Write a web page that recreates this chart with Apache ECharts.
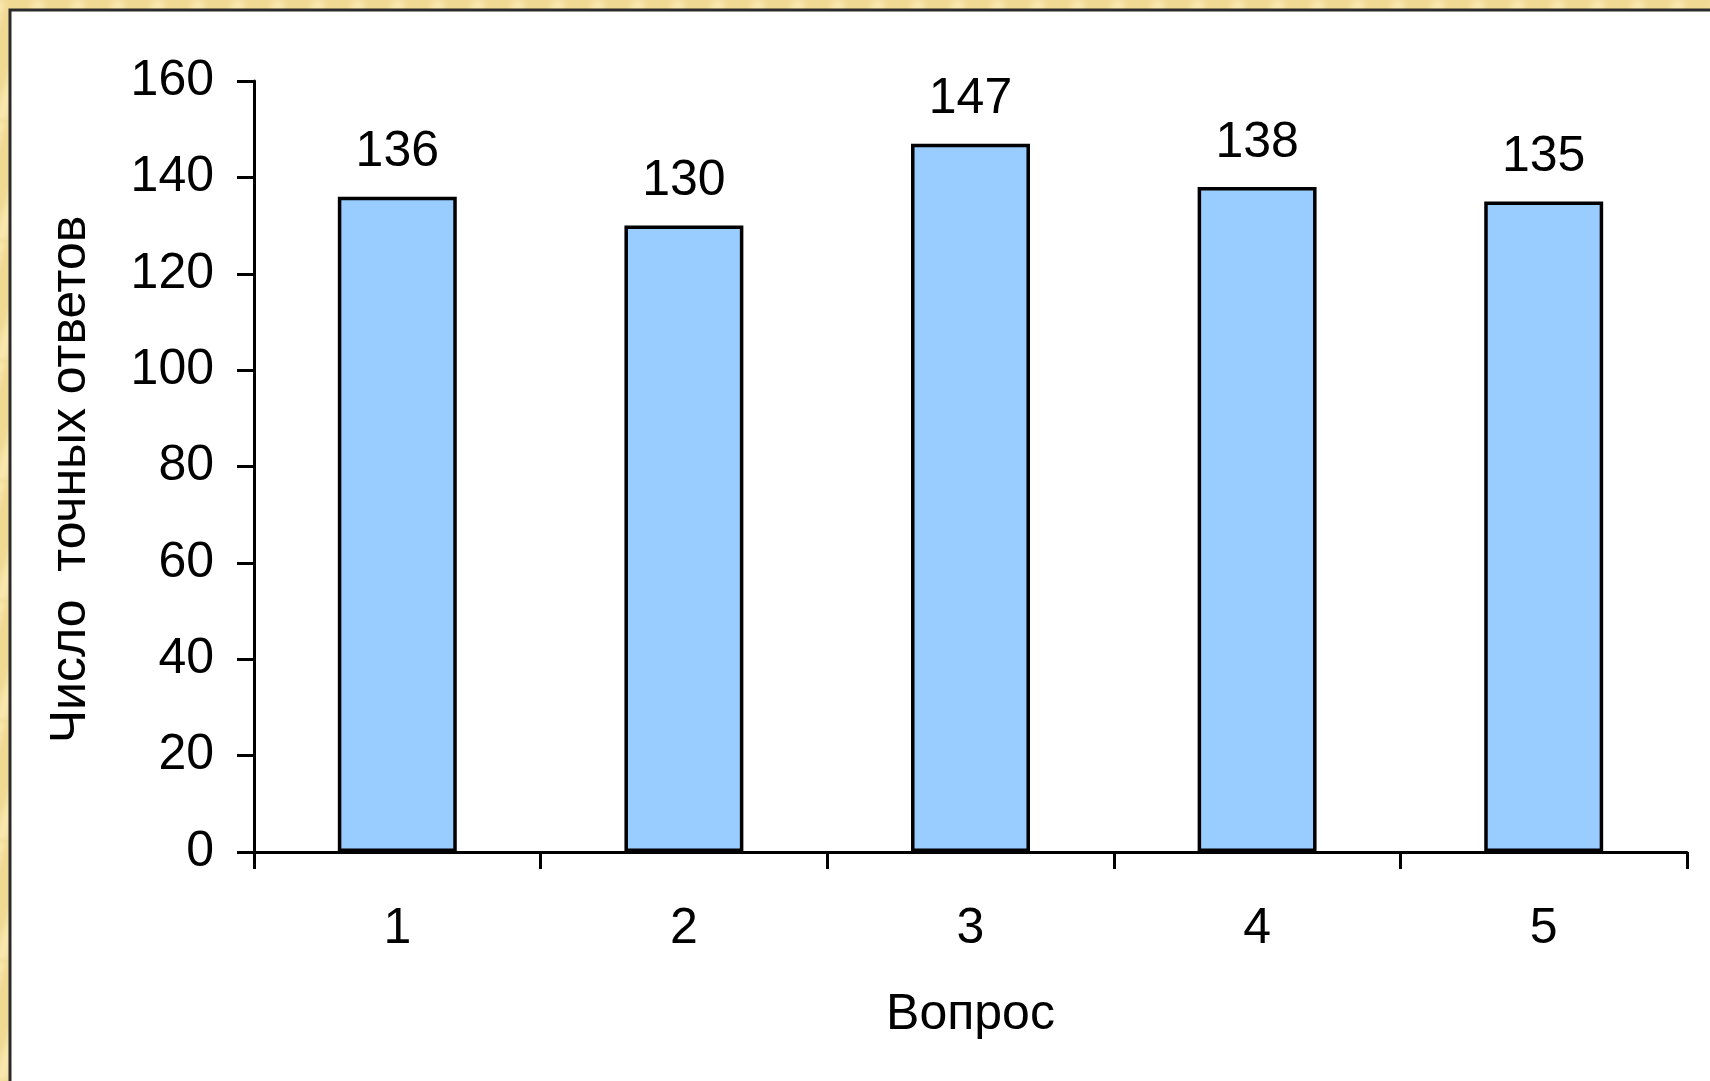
<!DOCTYPE html>
<html>
<head>
<meta charset="utf-8">
<script src="https://cdn.jsdelivr.net/npm/echarts@6/dist/echarts.min.js"></script>
<style>
  html, body { margin: 0; padding: 0; background: #f2dc9c; }
  #chart { width: 1710px; height: 1081px; }
</style>
</head>
<body>
<div id="chart"></div>
<script>
// Number of correct answers per question
const categories = ['1', '2', '3', '4', '5'];
const correctAnswers = [136, 130, 147, 138, 135];
const yTicks = { min: 0, max: 160, interval: 20 };
const yAxisTitle = 'Число  точных ответов';
const xAxisTitle = 'Вопрос';

// Beige paper texture with soft diagonal streaks for the frame
function makeTexture() {
  const c = document.createElement('canvas');
  c.width = 120; c.height = 120;
  const g = c.getContext('2d');
  g.fillStyle = '#f0d993';
  g.fillRect(0, 0, 120, 120);
  g.lineWidth = 12;
  g.filter = 'blur(3px)';
  for (let i = -120; i < 240; i += 40) {
    g.strokeStyle = 'rgba(252,238,190,0.7)';
    g.beginPath(); g.moveTo(i, 120); g.lineTo(i + 40, 0); g.stroke();
  }
  return c;
}

const font = '"Liberation Sans", Arial, sans-serif';
const fontSize = 50;
const chart = echarts.init(document.getElementById('chart'), null, { renderer: 'canvas' });

chart.setOption({
  backgroundColor: { image: makeTexture(), repeat: 'repeat' },
  animation: false,
  textStyle: { fontFamily: font },
  graphic: [
    {
      type: 'rect', z: -10, silent: true,
      shape: { x: 10, y: 10, width: 1710, height: 1081 },
      style: { fill: '#ffffff', stroke: '#2b2b2b', lineWidth: 3 }
    }
  ],
  grid: { left: 254, right: 23, top: 81, bottom: 229, containLabel: false },
  xAxis: {
    type: 'category',
    data: categories,
    boundaryGap: true,
    name: xAxisTitle,
    nameLocation: 'middle',
    nameGap: 138,
    nameTextStyle: { color: '#000', fontSize: fontSize, fontFamily: font },
    axisLine: { show: true, lineStyle: { color: '#000', width: 3 } },
    axisTick: { show: true, length: 17, lineStyle: { color: '#000', width: 3 } },
    axisLabel: { color: '#000', fontSize: fontSize, margin: 52, fontFamily: font },
    splitLine: { show: false }
  },
  yAxis: {
    type: 'value',
    min: yTicks.min, max: yTicks.max, interval: yTicks.interval,
    name: yAxisTitle,
    nameLocation: 'middle',
    nameGap: 158,
    nameRotate: 90,
    nameTextStyle: { color: '#000', fontSize: fontSize, fontFamily: font, padding: [0, 26, 0, 0] },
    axisLine: { show: true, lineStyle: { color: '#000', width: 3 } },
    axisTick: { show: true, length: 17, lineStyle: { color: '#000', width: 3 } },
    axisLabel: { color: '#000', fontSize: fontSize, margin: 40, fontFamily: font },
    splitLine: { show: false }
  },
  series: [{
    type: 'bar',
    data: correctAnswers,
    barWidth: '41.5%',
    itemStyle: { color: '#99ccff', borderColor: '#000', borderWidth: 3.5 },
    label: { show: true, position: 'top', distance: 19, color: '#000', fontSize: fontSize, fontFamily: font }
  }]
});
</script>
</body>
</html>
